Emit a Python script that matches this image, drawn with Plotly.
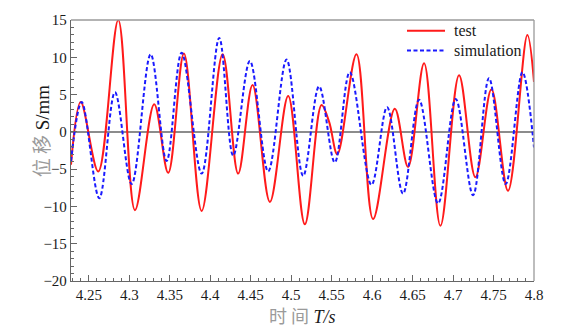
import plotly.graph_objects as go

# test (red) extrema
test_t = [4.228, 4.240, 4.2617, 4.2864, 4.307, 4.3308, 4.3481, 4.3675, 4.3894, 4.4153,
          4.4345, 4.4523, 4.4737, 4.4963, 4.5169, 4.5375, 4.547, 4.557, 4.5807, 4.6012,
          4.628, 4.6444, 4.6642, 4.6844, 4.7074, 4.7276, 4.7474, 4.7679, 4.7918, 4.8]
test_v = [-4.4, 4.0, -5.3, 15.0, -10.5, 3.7, -5.5, 10.5, -10.6, 10.4,
          -5.6, 6.3, -9.4, 4.8, -12.4, 3.6, 1.3, -3.0, 10.4, -11.7,
          3.1, -4.7, 9.2, -12.6, 7.6, -6.1, 5.7, -7.9, 13.0, 6.7]

# simulation (blue) extrema
sim_t = [4.228, 4.2412, 4.2629, 4.2823, 4.3029, 4.3264, 4.3461, 4.3647, 4.3894, 4.4111,
         4.4284, 4.449, 4.4716, 4.4943, 4.5148, 4.5345, 4.5539, 4.5724, 4.5992, 4.6185,
         4.6382, 4.658, 4.6815, 4.7033, 4.7247, 4.7444, 4.765, 4.7857, 4.8]
sim_v = [-3.9, 4.0, -8.9, 5.3, -7.0, 10.4, -3.9, 10.6, -5.6, 12.6,
         -3.2, 9.5, -5.3, 9.7, -5.9, 6.1, -4.1, 8.0, -7.1, 3.3,
         -8.3, 4.3, -9.6, 4.4, -8.5, 7.2, -7.0, 8.0, -2.1]

x_ticks = [4.25, 4.3, 4.35, 4.4, 4.45, 4.5, 4.55, 4.6, 4.65, 4.7, 4.75, 4.8]
x_tick_text = ["4.25", "4.3", "4.35", "4.4", "4.45", "4.5", "4.55", "4.6", "4.65", "4.7", "4.75", "4.8"]
y_ticks = [15, 10, 5, 0, -5, -10, -15, -20]

series_names = ["test", "simulation"]
series_colors = ["#ff1a1a", "#1a1aff"]
series_dash = ["solid", "4px,2.5px"]

serif = "Liberation Serif"
cjk = "Noto Sans CJK SC"

fig = go.Figure()
fig.add_trace(go.Scatter(x=test_t, y=test_v, mode="lines", name=series_names[0], showlegend=False,
                         line=dict(color=series_colors[0], width=2, shape="spline", smoothing=1.0)))
fig.add_trace(go.Scatter(x=sim_t, y=sim_v, mode="lines", name=series_names[1], showlegend=False,
                         line=dict(color=series_colors[1], width=2, dash=series_dash[1],
                                   shape="spline", smoothing=1.0)))

axis_common = dict(showgrid=False, showline=True, linecolor="#666666", linewidth=1.3,
                   mirror=False, ticks="inside", ticklen=6, tickcolor="#666666", tickwidth=1,
                   tickfont=dict(family=serif, size=15, color="#1a1a1a"))

fig.update_xaxes(range=[4.228, 4.8], tickvals=x_ticks, ticktext=x_tick_text, zeroline=False,
                 minor=dict(dtick=0.01, tick0=4.25, ticks="inside", ticklen=3, tickcolor="#666666"),
                 **axis_common)
fig.update_yaxes(range=[-20, 15], tickvals=y_ticks, zeroline=True, zerolinecolor="#8c8c8c",
                 zerolinewidth=1.5,
                 minor=dict(dtick=1, tick0=0, ticks="inside", ticklen=3, tickcolor="#666666"),
                 **axis_common)

# frame top/right in lighter gray
shapes = [
    dict(type="line", xref="paper", yref="paper", x0=0, x1=1, y0=1, y1=1,
         line=dict(color="#9a9a9a", width=1.3)),
    dict(type="line", xref="paper", yref="paper", x0=1, x1=1, y0=0, y1=1,
         line=dict(color="#9a9a9a", width=1.3)),
]
# legend drawn manually
leg_y = [0.9585, 0.883]
annotations = []
for i in range(2):
    shapes.append(dict(type="line", xref="paper", yref="paper", x0=0.7257, x1=0.8078,
                       y0=leg_y[i], y1=leg_y[i],
                       line=dict(color=series_colors[i], width=2, dash=series_dash[i])))
    annotations.append(dict(text=series_names[i], xref="paper", yref="paper", x=0.823, y=leg_y[i],
                            xanchor="left", yanchor="middle", showarrow=False,
                            font=dict(family=serif, size=16, color="#1a1a1a")))

annotations += [
    dict(text=f"<span style='font-family:{cjk};color:#9a9a9a'>位 移</span> S/mm",
         xref="paper", yref="paper", x=-0.064, y=0.575, xanchor="center", yanchor="middle",
         textangle=-90, showarrow=False, font=dict(family=serif, size=19, color="#1a1a1a")),
    dict(text=f"<span style='font-family:{cjk};color:#9a9a9a'>时 间</span> <i>T/s</i>",
         xref="paper", yref="paper", x=0.5, y=-0.13, xanchor="center", yanchor="middle",
         showarrow=False, font=dict(family=serif, size=18, color="#1a1a1a")),
]

fig.update_layout(
    width=568, height=329,
    margin=dict(l=71, r=34, t=16, b=48),
    plot_bgcolor="white", paper_bgcolor="white",
    font=dict(family=serif, size=15, color="#1a1a1a"),
    shapes=shapes, annotations=annotations, showlegend=False,
)

fig.write_html("out.html")
